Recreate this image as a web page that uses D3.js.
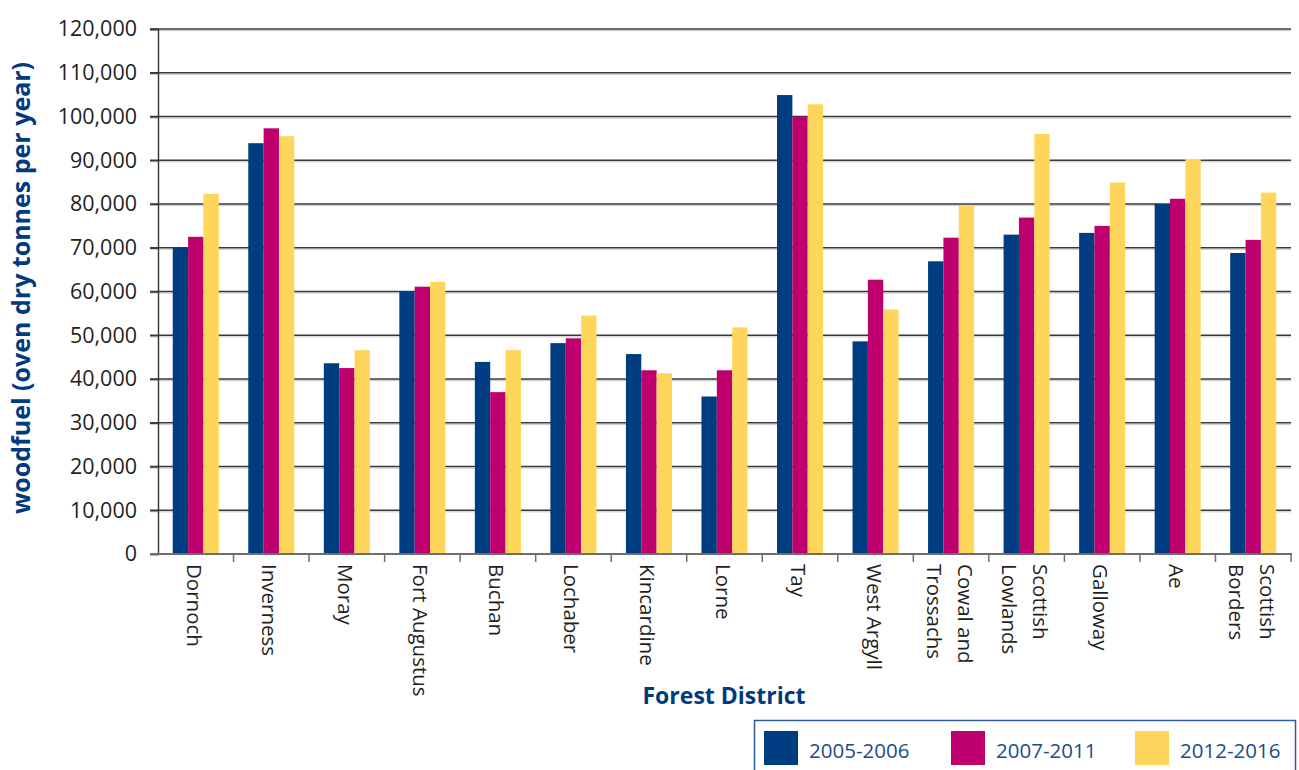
<!DOCTYPE html>
<html>
<head>
<meta charset="utf-8">
<script src="https://cdn.jsdelivr.net/npm/d3@7"></script>
<style>
  html, body { margin: 0; padding: 0; background: #fff; }
  svg { display: block; font-family: "Open Sans", sans-serif; }
</style>
</head>
<body>
<svg id="chart" width="1299" height="770"></svg>
<script>
// ---- data ----
const categories = ["Dornoch", "Inverness", "Moray", "Fort Augustus", "Buchan", "Lochaber", "Kincardine", "Lorne", "Tay", "West Argyll", "Cowal and\nTrossachs", "Scottish\nLowlands", "Galloway", "Ae", "Scottish\nBorders"];
const seriesNames = ["2005-2006", "2007-2011", "2012-2016"];
const values2005_2006 = [70000, 93900, 43600, 60000, 43900, 48200, 45700, 36000, 104900, 48600, 66900, 73000, 73400, 80000, 68800];
const values2007_2011 = [72500, 97300, 42500, 61100, 37000, 49300, 42000, 42000, 100000, 62700, 72300, 76900, 75000, 81200, 71800];
const values2012_2016 = [82300, 95500, 46600, 62200, 46600, 54500, 41300, 51800, 102800, 55900, 79700, 96000, 84900, 90300, 82600];
const yTickValues = [0, 10000, 20000, 30000, 40000, 50000, 60000, 70000, 80000, 90000, 100000, 110000, 120000];
const yTitle = "woodfuel (oven dry tonnes per year)";
const xTitle = "Forest District";

(function () {
const seriesValues = [values2005_2006, values2007_2011, values2012_2016];
const colors = ["#003c80", "#be006f", "#ffd65c"];

// ---- layout ----
const svg = d3.select("#chart");
const plotLeft = 158, plotRight = 1291, plotTop = 29, plotBottom = 554;

const x = d3.scaleBand().domain(categories).range([plotLeft, plotRight]).paddingInner(0).paddingOuter(0);
const x1 = d3.scaleBand().domain(seriesNames).range([0, x.bandwidth()]).paddingInner(0).paddingOuter(0.96);
const y = d3.scaleLinear().domain([0, 120000]).range([plotBottom, plotTop]);

// gridlines
const grid = svg.append("g");
const gridVals = yTickValues.filter(d => d > 0);
grid.selectAll("line.shade").data(gridVals).join("line").attr("class", "shade")
  .attr("x1", 150).attr("x2", plotRight)
  .attr("y1", d => y(d) + 1.6).attr("y2", d => y(d) + 1.6)
  .attr("stroke", "#c9c9c9").attr("stroke-width", 1);
grid.selectAll("line.main").data(gridVals).join("line").attr("class", "main")
  .attr("x1", 150).attr("x2", plotRight)
  .attr("y1", d => y(d)).attr("y2", d => y(d))
  .attr("stroke", "#3a3a3a").attr("stroke-width", 1.6);

// bars
const groups = svg.append("g").selectAll("g").data(seriesNames).join("g")
  .attr("fill", (d, i) => colors[i]);
groups.selectAll("rect").data((s, si) => categories.map((c, ci) => ({c, s, v: seriesValues[si][ci]}))).join("rect")
  .attr("x", d => x(d.c) + x1(d.s))
  .attr("width", x1.bandwidth())
  .attr("y", d => y(d.v))
  .attr("height", d => y(0) - y(d.v));

// y axis
const yAxis = svg.append("g").attr("transform", `translate(${plotLeft},0)`)
  .call(d3.axisLeft(y).tickValues(yTickValues).tickFormat(d3.format(",")).tickSize(8).tickPadding(13));
yAxis.select(".domain").attr("stroke", "#333").attr("stroke-width", 1.4);
yAxis.selectAll(".tick line").attr("stroke", "#3a3a3a").attr("stroke-width", 1.4);
yAxis.selectAll(".tick text").attr("font-size", "21.5px").attr("fill", "#231f20")
  .attr("font-family", "'Open Sans', sans-serif");

// x axis line & ticks
svg.append("line").attr("x1", 150).attr("x2", plotRight + 1).attr("y1", plotBottom).attr("y2", plotBottom)
  .attr("stroke", "#6e6e6e").attr("stroke-width", 2);
svg.append("g").selectAll("line").data(categories).join("line")
  .attr("x1", d => x(d) + x.bandwidth()).attr("x2", d => x(d) + x.bandwidth())
  .attr("y1", plotBottom).attr("y2", plotBottom + 8)
  .attr("stroke", "#6e6e6e").attr("stroke-width", 1.5);

// x labels (rotated)
const lab = svg.append("g").selectAll("g").data(categories).join("g")
  .attr("transform", d => `translate(${x(d) + x.bandwidth() / 2 - 1},564) rotate(90)`);
lab.each(function (d) {
  const lines = d.split("\n");
  const g = d3.select(this);
  const n = lines.length;
  lines.forEach((t, i) => {
    g.append("text")
      .attr("x", 0)
      .attr("y", (i - (n - 1) / 2) * 31)
      .attr("dominant-baseline", "central")
      .attr("text-anchor", "start")
      .attr("font-size", "20.5px")
      .attr("fill", "#231f20")
      .text(t);
  });
});

// axis titles
svg.append("text")
  .attr("transform", "translate(30,288) rotate(-90)")
  .attr("text-anchor", "middle")
  .attr("font-size", "25px").attr("font-weight", "bold")
  .attr("fill", "#003a80")
  .text(yTitle);
svg.append("text")
  .attr("x", 724).attr("y", 704)
  .attr("text-anchor", "middle")
  .attr("font-size", "23px").attr("font-weight", "bold")
  .attr("fill", "#003a80")
  .text(xTitle);

// legend
const legend = svg.append("g");
legend.append("rect").attr("x", 754.5).attr("y", 720.5).attr("width", 541).attr("height", 70)
  .attr("fill", "#fff").attr("stroke", "#2c5c9c").attr("stroke-width", 1.5);
const swatchX = [764, 951, 1135];
const items = legend.selectAll("g.item").data(seriesNames).join("g").attr("class", "item")
  .attr("transform", (d, i) => `translate(${swatchX[i]},731)`);
items.append("rect").attr("width", 34).attr("height", 34).attr("fill", (d, i) => colors[i]);
items.append("text").attr("x", 45).attr("y", 27)
  .attr("font-size", "20.5px").attr("fill", "#1d4b8c")
  .text(d => d);
})();
</script>
</body>
</html>
